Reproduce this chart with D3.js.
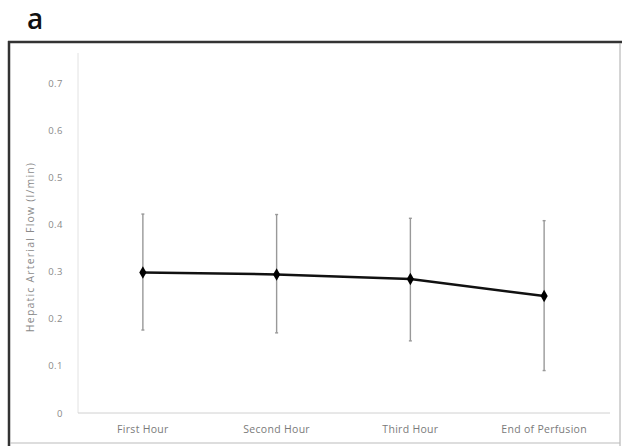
<!DOCTYPE html>
<html><head><meta charset="utf-8">
<script src="https://cdn.jsdelivr.net/npm/d3@7"></script>
<style>body{margin:0;background:#fff}svg{display:block}</style>
</head><body>
<script>
const categories = ["First Hour", "Second Hour", "Third Hour", "End of Perfusion"];
const means = [0.298, 0.294, 0.284, 0.248];
const upper = [0.422, 0.421, 0.413, 0.408];
const lower = [0.176, 0.170, 0.153, 0.090];
const yTicks = [0, 0.1, 0.2, 0.3, 0.4, 0.5, 0.6, 0.7];

const W = 622, H = 446;
const svg = d3.select("body").append("svg").attr("width", W).attr("height", H);
const font = "'Open Sans', 'Noto Sans', sans-serif";

// panel label
svg.append("text").attr("x", 27).attr("y", 29).text("a")
  .attr("font-family", font).attr("font-size", 28).attr("font-weight", 600).attr("fill", "#111");

// frame
svg.append("line").attr("x1", 9).attr("x2", 9).attr("y1", 41).attr("y2", 446).attr("stroke", "#333").attr("stroke-width", 2.5);
svg.append("line").attr("x1", 8).attr("x2", 622).attr("y1", 42).attr("y2", 42).attr("stroke", "#333").attr("stroke-width", 2.5);
svg.append("line").attr("x1", 620).attr("x2", 620).attr("y1", 43).attr("y2", 446).attr("stroke", "#aaa").attr("stroke-width", 1);
svg.append("line").attr("x1", 10).attr("x2", 620).attr("y1", 443).attr("y2", 443).attr("stroke", "#bbb").attr("stroke-width", 1);

const x = d3.scaleBand().domain(categories).range([76, 611]).padding(0);
const y = d3.scaleLinear().domain([0, 0.7]).range([413, 83]);
const cx = c => x(c) + x.bandwidth() / 2;

// y axis
const yAxis = svg.append("g").attr("transform", "translate(78,0)")
  .call(d3.axisLeft(y).tickValues(yTicks).tickSize(0).tickPadding(15)
    .tickFormat(d => d === 0 ? "0" : d3.format(".1f")(d)));
yAxis.select(".domain").remove();
yAxis.selectAll("text").attr("font-family", font).attr("font-size", 9.5).attr("fill", "#8a8a8a").attr("letter-spacing", 0.5);
svg.append("line").attr("x1", 78).attr("x2", 78).attr("y1", 53).attr("y2", 413).attr("stroke", "#e2e2e2").attr("stroke-width", 1);

// x axis
const xAxis = svg.append("g").attr("transform", "translate(0,413)")
  .call(d3.axisBottom(x).tickSize(0).tickPadding(13));
xAxis.select(".domain").remove();
xAxis.selectAll("text").attr("font-family", font).attr("font-size", 10.5).attr("fill", "#7a7a7a").attr("letter-spacing", 0.3);
svg.append("line").attr("x1", 78).attr("x2", 610).attr("y1", 413).attr("y2", 413).attr("stroke", "#d0d0d0").attr("stroke-width", 1);

// y title
svg.append("text").attr("transform", `translate(34,247) rotate(-90)`)
  .attr("text-anchor", "middle").attr("font-family", font).attr("font-size", 10.5)
  .attr("letter-spacing", 1.2)
  .attr("fill", "#8a8a8a").text("Hepatic Arterial Flow (l/min)");

const data = categories.map((c, i) => ({c, m: means[i], hi: upper[i], lo: lower[i]}));

// error bars
const eb = svg.append("g").attr("stroke", "#999").attr("stroke-width", 1.4);
data.forEach(d => {
  eb.append("line").attr("x1", cx(d.c)).attr("x2", cx(d.c)).attr("y1", y(d.hi)).attr("y2", y(d.lo));
  eb.append("line").attr("x1", cx(d.c) - 1.5).attr("x2", cx(d.c) + 1.5).attr("y1", y(d.hi)).attr("y2", y(d.hi));
  eb.append("line").attr("x1", cx(d.c) - 1.5).attr("x2", cx(d.c) + 1.5).attr("y1", y(d.lo)).attr("y2", y(d.lo));
});

// line
svg.append("path").datum(data)
  .attr("d", d3.line().x(d => cx(d.c)).y(d => y(d.m)))
  .attr("fill", "none").attr("stroke", "#111").attr("stroke-width", 2.5);

// markers
svg.append("g").selectAll("path").data(data).join("path")
  .attr("transform", d => `translate(${cx(d.c)},${y(d.m)})`)
  .attr("d", d3.symbol().type(d3.symbolDiamond).size(45))
  .attr("fill", "#000");
</script>
</body></html>
